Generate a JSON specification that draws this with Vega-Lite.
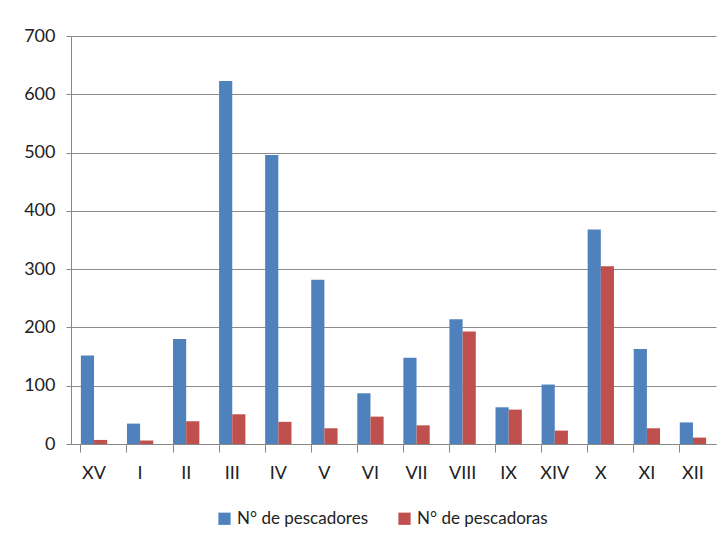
{
  "$schema": "https://vega.github.io/schema/vega-lite/v6.json",
  "width": 645,
  "height": 408,
  "autosize": {"type": "none"},
  "padding": {"left": 71, "top": 36, "right": 9, "bottom": 102},
  "background": "white",
  "config": {
    "view": {"stroke": null},
    "font": "Lato",
    "axis": {"labelFont": "Lato", "labelFontSize": 18, "labelColor": "#222", "titleFont": "Lato"},
    "legend": {"labelFont": "Lato", "labelFontSize": 17, "labelColor": "#222"}
  },
  "data": {
    "values": [
      {"region": "XV", "serie": "N° de pescadores", "valor": 152},
      {"region": "XV", "serie": "N° de pescadoras", "valor": 7},
      {"region": "I", "serie": "N° de pescadores", "valor": 35},
      {"region": "I", "serie": "N° de pescadoras", "valor": 6},
      {"region": "II", "serie": "N° de pescadores", "valor": 180},
      {"region": "II", "serie": "N° de pescadoras", "valor": 39},
      {"region": "III", "serie": "N° de pescadores", "valor": 623},
      {"region": "III", "serie": "N° de pescadoras", "valor": 51},
      {"region": "IV", "serie": "N° de pescadores", "valor": 496},
      {"region": "IV", "serie": "N° de pescadoras", "valor": 38},
      {"region": "V", "serie": "N° de pescadores", "valor": 282},
      {"region": "V", "serie": "N° de pescadoras", "valor": 27},
      {"region": "VI", "serie": "N° de pescadores", "valor": 87},
      {"region": "VI", "serie": "N° de pescadoras", "valor": 47},
      {"region": "VII", "serie": "N° de pescadores", "valor": 148},
      {"region": "VII", "serie": "N° de pescadoras", "valor": 32},
      {"region": "VIII", "serie": "N° de pescadores", "valor": 214},
      {"region": "VIII", "serie": "N° de pescadoras", "valor": 193},
      {"region": "IX", "serie": "N° de pescadores", "valor": 63},
      {"region": "IX", "serie": "N° de pescadoras", "valor": 59},
      {"region": "XIV", "serie": "N° de pescadores", "valor": 102},
      {"region": "XIV", "serie": "N° de pescadoras", "valor": 23},
      {"region": "X", "serie": "N° de pescadores", "valor": 368},
      {"region": "X", "serie": "N° de pescadoras", "valor": 305},
      {"region": "XI", "serie": "N° de pescadores", "valor": 163},
      {"region": "XI", "serie": "N° de pescadoras", "valor": 27},
      {"region": "XII", "serie": "N° de pescadores", "valor": 37},
      {"region": "XII", "serie": "N° de pescadoras", "valor": 11}
    ]
  },
  "mark": {"type": "bar"},
  "encoding": {
    "x": {
      "field": "region",
      "type": "nominal",
      "sort": null,
      "scale": {"paddingInner": 0.4286, "paddingOuter": 0.2143},
      "axis": {
        "title": null,
        "labelAngle": 0,
        "bandPosition": 0,
        "domainColor": "#888",
        "tickColor": "#888",
        "tickSize": 8,
        "labelPadding": 12,
        "grid": false
      }
    },
    "xOffset": {
      "field": "serie",
      "type": "nominal",
      "sort": ["N° de pescadores", "N° de pescadoras"],
      "scale": {"paddingInner": 0, "paddingOuter": 0}
    },
    "y": {
      "field": "valor",
      "type": "quantitative",
      "scale": {"domain": [0, 700], "nice": false},
      "axis": {
        "title": null,
        "values": [0, 100, 200, 300, 400, 500, 600, 700],
        "grid": true,
        "gridColor": "#8c8c8c",
        "domainColor": "#888",
        "tickColor": "#888",
        "tickSize": 5,
        "labelPadding": 11
      }
    },
    "color": {
      "field": "serie",
      "type": "nominal",
      "sort": ["N° de pescadores", "N° de pescadoras"],
      "scale": {"domain": ["N° de pescadores", "N° de pescadoras"], "range": ["#4F81BD", "#C0504D"]},
      "legend": {
        "title": null,
        "orient": "none",
        "legendX": 145,
        "legendY": 474,
        "padding": 0,
        "direction": "horizontal",
        "symbolType": "square",
        "symbolSize": 150,
        "symbolStrokeWidth": 0,
        "columnPadding": 28
      }
    }
  }
}
